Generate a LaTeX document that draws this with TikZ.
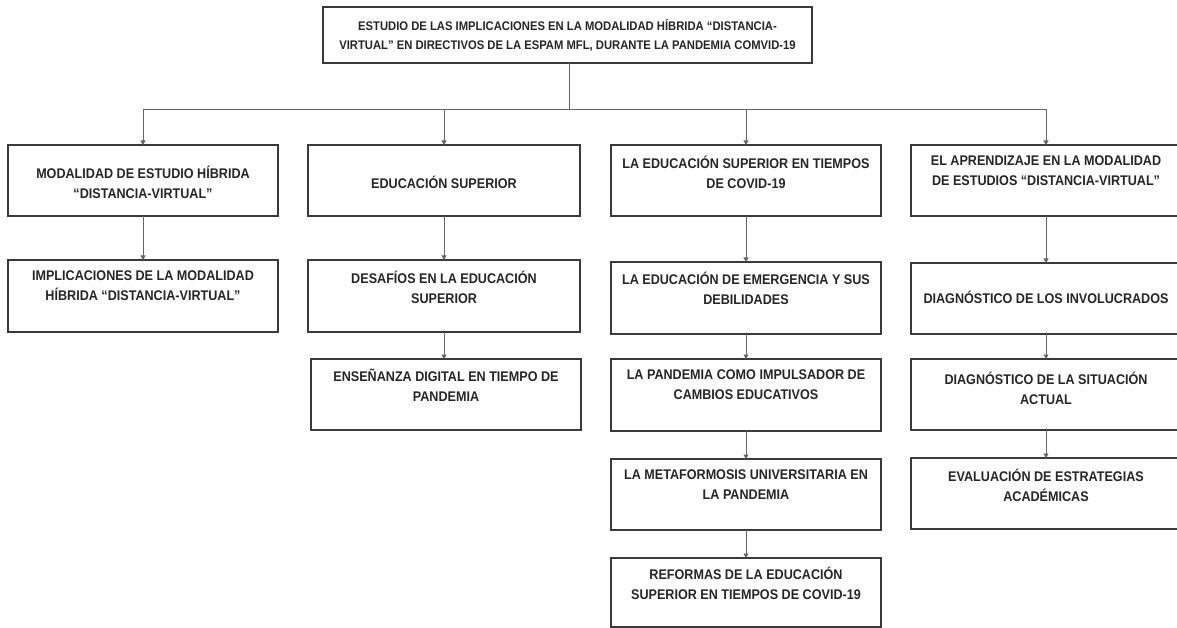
\documentclass[tikz,border=0pt]{standalone}
\usepackage{fontspec}
\setmainfont{Liberation Sans}[FakeStretch=0.9]
\usetikzlibrary{arrows.meta}
\definecolor{boxline}{HTML}{3A3A3A}
\definecolor{conline}{HTML}{666666}
\definecolor{txtcol}{HTML}{262626}
\tikzset{
  boxst/.style={draw=boxline, line width=1.2pt, fill=white, inner sep=0pt, outer sep=0pt},
  txt/.style={align=center, inner sep=0pt, text=txtcol, font=\bfseries\fontsize{14}{20}\selectfont},
  toptxt/.style={txt, font=\bfseries\fontsize{12.5}{19}\selectfont},
  conn/.style={draw=conline, line width=0.8pt},
  arr/.style={conn, -{Triangle[width=5pt,length=4.5pt]}}
}
\newcommand{\bx}[8][txt]{%
  \node[boxst, minimum width=#6, minimum height={#5-#4}] (#2) at (#3,{(#4+#5)/2}) {};
  \node[#1] (#2t) at (#3,#7) {#8};}
\begin{document}
\begin{tikzpicture}[x=1pt,y=-1pt]
\fill[white] (0,0) rectangle (1177,628);
\useasboundingbox (0,0) rectangle (1177,628);
% top
\bx[toptxt]{top}{567.5}{7}{63}{489}{35}{ESTUDIO DE LAS IMPLICACIONES EN LA MODALIDAD HÍBRIDA “DISTANCIA-\\VIRTUAL” EN DIRECTIVOS DE LA ESPAM MFL, DURANTE LA PANDEMIA COMVID-19}
% column 1
\bx{a1}{143}{145}{216}{270}{182}{MODALIDAD DE ESTUDIO HÍBRIDA\\“DISTANCIA-VIRTUAL”}
\bx{a2}{143}{260}{332}{270}{286}{IMPLICACIONES DE LA MODALIDAD\\HÍBRIDA “DISTANCIA-VIRTUAL”}
% column 2
\bx{b1}{444}{145}{216}{272}{182}{EDUCACIÓN SUPERIOR}
\bx{b2}{444}{260}{332}{272}{287}{DESAFÍOS EN LA EDUCACIÓN\\SUPERIOR}
\bx{b3}{446}{359}{430}{270}{385}{ENSEÑANZA DIGITAL EN TIEMPO DE\\PANDEMIA}
% column 3
\bx{c1}{746}{145}{216}{270}{172}{LA EDUCACIÓN SUPERIOR EN TIEMPOS\\DE COVID-19}
\bx{c2}{746}{262}{334}{270}{288}{LA EDUCACIÓN DE EMERGENCIA Y SUS\\DEBILIDADES}
\bx{c3}{746}{359}{431}{270}{385}{LA PANDEMIA COMO IMPULSADOR DE\\CAMBIOS EDUCATIVOS}
\bx{c4}{746}{459}{530}{270}{485}{LA METAFORMOSIS UNIVERSITARIA EN\\LA PANDEMIA}
\bx{c5}{746}{558}{627}{270}{583}{REFORMAS DE LA EDUCACIÓN\\SUPERIOR EN TIEMPOS DE COVID-19}
% column 4
\bx{d1}{1046}{145}{216}{270}{171}{EL APRENDIZAJE EN LA MODALIDAD\\DE ESTUDIOS “DISTANCIA-VIRTUAL”}
\bx{d2}{1046}{263}{334}{270}{297}{DIAGNÓSTICO DE LOS INVOLUCRADOS}
\bx{d3}{1046}{359}{430}{270}{388}{DIAGNÓSTICO DE LA SITUACIÓN\\ACTUAL}
\bx{d4}{1046}{458}{529}{270}{485}{EVALUACIÓN DE ESTRATEGIAS\\ACADÉMICAS}
% connectors
\coordinate (busL) at (143,109);
\coordinate (busR) at (1046,109);
\coordinate (trunk) at (569,109);
\draw[conn] (top.south -| trunk) -- (trunk);
\draw[conn] (busL) -- (busR);
\draw[arr] (busL) -- (a1.north);
\draw[arr] (b1.north |- busL) -- (b1.north);
\draw[arr] (c1.north |- busL) -- (c1.north);
\draw[arr] (busR) -- (d1.north);
\draw[arr] (a1) -- (a2);
\draw[arr] (b1) -- (b2);
\draw[arr] (b2.south) -- (b2.south |- b3.north);
\draw[arr] (c1) -- (c2);
\draw[arr] (c2) -- (c3);
\draw[arr] (c3) -- (c4);
\draw[arr] (c4) -- (c5);
\draw[arr] (d1) -- (d2);
\draw[arr] (d2) -- (d3);
\draw[arr] (d3) -- (d4);
\end{tikzpicture}
\end{document}
